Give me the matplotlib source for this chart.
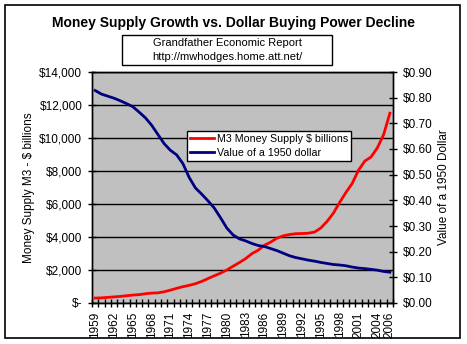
import numpy as np
import matplotlib
matplotlib.use("Agg")
import matplotlib.pyplot as plt
from matplotlib.patches import Rectangle

plt.rcParams['font.family'] = ['Liberation Sans', 'DejaVu Sans']

years = list(range(1959, 2007))
m3 = [300, 310, 340, 370, 400, 440, 480, 505, 560, 600,
      615, 680, 780, 890, 990, 1070, 1170, 1310, 1480, 1650,
      1810, 2000, 2230, 2450, 2690, 2990, 3200, 3500, 3690, 3930,
      4070, 4150, 4200, 4210, 4230, 4300, 4550, 4950, 5450, 6100,
      6700, 7250, 8050, 8600, 8850, 9400, 10200, 11500]
dollar = [0.828, 0.814, 0.806, 0.798, 0.788, 0.777, 0.765, 0.744, 0.722, 0.693,
          0.657, 0.621, 0.595, 0.577, 0.543, 0.489, 0.448, 0.424, 0.398, 0.370,
          0.332, 0.292, 0.265, 0.250, 0.242, 0.232, 0.224, 0.220, 0.212, 0.204,
          0.194, 0.184, 0.177, 0.172, 0.167, 0.163, 0.158, 0.154, 0.150, 0.148,
          0.145, 0.140, 0.136, 0.134, 0.131, 0.128, 0.123, 0.120]
left_ticks = [0, 2000, 4000, 6000, 8000, 10000, 12000, 14000]
left_labels = ['$-', '$2,000', '$4,000', '$6,000', '$8,000', '$10,000', '$12,000', '$14,000']
right_ticks = [0.0, 0.1, 0.2, 0.3, 0.4, 0.5, 0.6, 0.7, 0.8, 0.9]
label_years = list(range(1959, 2005, 3)) + [2006]

W, H = 467, 344
fig = plt.figure(figsize=(W / 100, H / 100), dpi=100)
fig.patch.set_facecolor('white')

# outer frame
fig.patches.append(Rectangle((5 / W, 6 / H), 455 / W, 333 / H, transform=fig.transFigure,
                             fill=False, edgecolor='black', linewidth=1.2))

ax = fig.add_axes([92 / W, 1 - 303 / H, 301 / W, 231 / H])
ax.set_facecolor('#c0c0c0')
x = np.arange(len(years))

for t in left_ticks:
    ax.axhline(t, color='black', linewidth=1.0, zorder=1)

l1, = ax.plot(x, m3, color='#ff0000', linewidth=2, zorder=3, label='M3 Money Supply $ billions')
ax.set_ylim(0, 14000)
ax.set_xlim(-0.5, len(years) - 0.5)
ax.set_yticks(left_ticks)
ax.set_yticklabels(left_labels, fontsize=8.5)
ax.tick_params(axis='y', direction='inout', length=6, width=1, pad=4)
ax.set_ylabel('Money Supply M3 - $ billions', fontsize=8.5, labelpad=3)

ax.set_xticks(np.arange(len(years) + 1) - 0.5, minor=True)
ax.set_xticks([years.index(y) for y in label_years])
ax.set_xticklabels([str(y) for y in label_years], rotation=90, fontsize=8.5)
ax.tick_params(axis='x', which='major', length=0, pad=6)
ax.tick_params(axis='x', which='minor', direction='inout', length=6, width=1)

ax2 = ax.twinx()
l2, = ax2.plot(x, dollar, color='#000080', linewidth=2, zorder=3, label='Value of a 1950 dollar')
ax2.set_ylim(0, 0.9)
ax2.set_yticks(right_ticks)
ax2.set_yticklabels(['$%.2f' % v for v in right_ticks], fontsize=8.5)
ax2.tick_params(axis='y', direction='inout', length=6, width=1, pad=4)
ax2.set_ylabel('Value of a 1950 Dollar', fontsize=8.5, labelpad=4)

for a in (ax, ax2):
    for s in a.spines.values():
        s.set_color('black')
        s.set_linewidth(1)

leg = ax2.legend(handles=[l1, l2], loc='upper left',
                 bbox_to_anchor=(187 / W, 1 - 131 / H), bbox_transform=fig.transFigure,
                 fontsize=7.7, frameon=True, fancybox=False, framealpha=1,
                 edgecolor='black', borderpad=0.3, labelspacing=0.35,
                 handlelength=2.2, handletextpad=0.3, borderaxespad=0)
leg.get_frame().set_linewidth(1)

fig.text(233 / W, 1 - 23 / H, 'Money Supply Growth vs. Dollar Buying Power Decline',
         ha='center', va='center', fontsize=10, fontweight='bold')
fig.patches.append(Rectangle((122 / W, 1 - 65 / H), 210 / W, 30 / H, transform=fig.transFigure,
                             fill=True, facecolor='white', edgecolor='black', linewidth=1))
fig.text(227 / W, 1 - 43 / H, 'Grandfather Economic Report', ha='center', va='center', fontsize=8)
fig.text(227 / W, 1 - 57 / H, 'http://mwhodges.home.att.net/', ha='center', va='center', fontsize=8)

fig.savefig('out.png', dpi=100)
